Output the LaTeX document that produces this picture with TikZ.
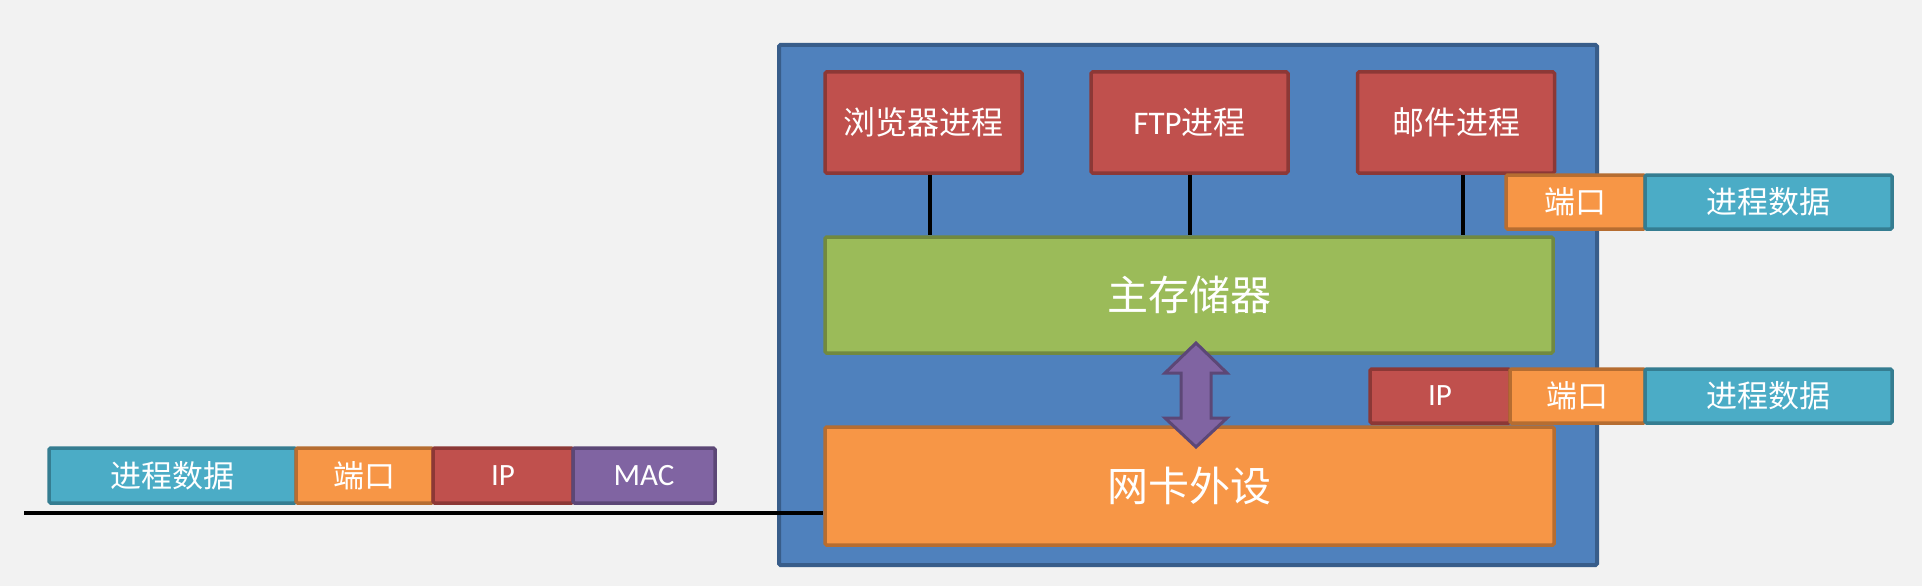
\documentclass[tikz,border=0pt]{standalone}
\usepackage{fontspec}
\usetikzlibrary{calc}
\setmainfont{Carlito}
\newfontfamily\cjk{Noto Sans CJK SC}
\newfontfamily\lat{Carlito}
\definecolor{bgc}{HTML}{F2F2F2}
\definecolor{blueF}{HTML}{4F81BD}\definecolor{blueD}{HTML}{385D8A}
\definecolor{redF}{HTML}{C0504D}\definecolor{redD}{HTML}{8C3836}
\definecolor{greenF}{HTML}{9BBB59}\definecolor{greenD}{HTML}{71893F}
\definecolor{orangeF}{HTML}{F79646}\definecolor{orangeD}{HTML}{B66D31}
\definecolor{aquaF}{HTML}{4BACC6}\definecolor{aquaD}{HTML}{357D91}
\definecolor{purpleF}{HTML}{8064A2}\definecolor{purpleD}{HTML}{5C4776}
\tikzset{
  box/.style={rectangle, inner sep=0pt, line width=3.5pt, rounded corners=1.5pt, text=white},
  proc/.style={box, fill=redF, draw=redD, minimum width=197pt, minimum height=101pt, font=\cjk\fontsize{32}{36}\selectfont},
  big/.style={box, minimum width=728pt, minimum height=116pt, font=\cjk\fontsize{41}{46}\selectfont},
  pk/.style={box, minimum height=54pt, font=\cjk\fontsize{31}{36}\selectfont},
  pdata/.style={pk, fill=aquaF, draw=aquaD, minimum width=247pt},
  pport/.style={pk, fill=orangeF, draw=orangeD},
  pip/.style={pk, fill=redF, draw=redD, minimum width=140pt, font=\lat\fontsize{31}{36}\selectfont},
  pmac/.style={pk, fill=purpleF, draw=purpleD, minimum width=142pt, font=\lat\fontsize{31}{36}\selectfont},
  link/.style={line width=4pt, black},
}
\begin{document}
\begin{tikzpicture}[x=1pt,y=-1pt]
\fill[bgc] (0,0) rectangle (1922,586);
\useasboundingbox (0,0) rectangle (1922,586);
% host frame
\node[box, fill=blueF, draw=blueD, line width=4pt, minimum width=818pt, minimum height=520pt] (host) at (1188,305) {};
% processes
\node[proc] (b1) at (923.5,122.5) {浏览器进程};
\node[proc] (b2) at (1189.5,122.5) {{\lat\fontsize{33}{36}\selectfont FTP}进程};
\node[proc] (b3) at (1456,122.5) {邮件进程};
% memory and NIC
\node[big, fill=greenF, draw=greenD] (mem) at (1189,295) {主存储器};
\node[big, fill=orangeF, draw=orangeD, minimum width=729pt, minimum height=118pt] (nic) at (1189.5,486) {网卡外设};
% links
\draw[link] ([xshift=6.5pt]b1.south) -- ([xshift=6.5pt]b1.south |- mem.north);
\draw[link] (b2.south) -- (b2.south |- mem.north);
\draw[link] ([xshift=7pt]b3.south) -- ([xshift=7pt]b3.south |- mem.north);
% double arrow
\coordinate (ac) at (1196,395);
\filldraw[fill=purpleF, draw=purpleD, line width=3pt, line join=miter]
  ($(ac)+(0,-52)$) -- ($(ac)+(31,-22)$) -- ($(ac)+(15,-22)$) -- ($(ac)+(15,23)$) -- ($(ac)+(31,23)$)
  -- ($(ac)+(0,52)$) -- ($(ac)+(-31,23)$) -- ($(ac)+(-15,23)$) -- ($(ac)+(-15,-22)$) -- ($(ac)+(-31,-22)$) -- cycle;
% top right packet
\node[pport, minimum width=139pt] (port1) at (1575.5,202) {端口};
\node[pdata] (data1) at (1768.5,202) {进程数据};
% middle right packet
\node[pip] (ip2) at (1440,396) {IP};
\node[pport, minimum width=135pt] (port2) at (1577.5,396) {端口};
\node[pdata] (data2) at (1768.5,396) {进程数据};
% left packet
\node[pdata, minimum height=55pt] (data3) at (172.5,475.5) {进程数据};
\node[pport, minimum width=137pt, minimum height=55pt] (port3) at (364.5,475.5) {端口};
\node[pip, minimum height=55pt] (ip3) at (503,475.5) {IP};
\node[pmac, minimum height=55pt] (mac3) at (644,475.5) {MAC};
% wire
\coordinate (w0) at (24,513);
\draw[link] (w0) -- (w0 -| nic.west);
\end{tikzpicture}
\end{document}
